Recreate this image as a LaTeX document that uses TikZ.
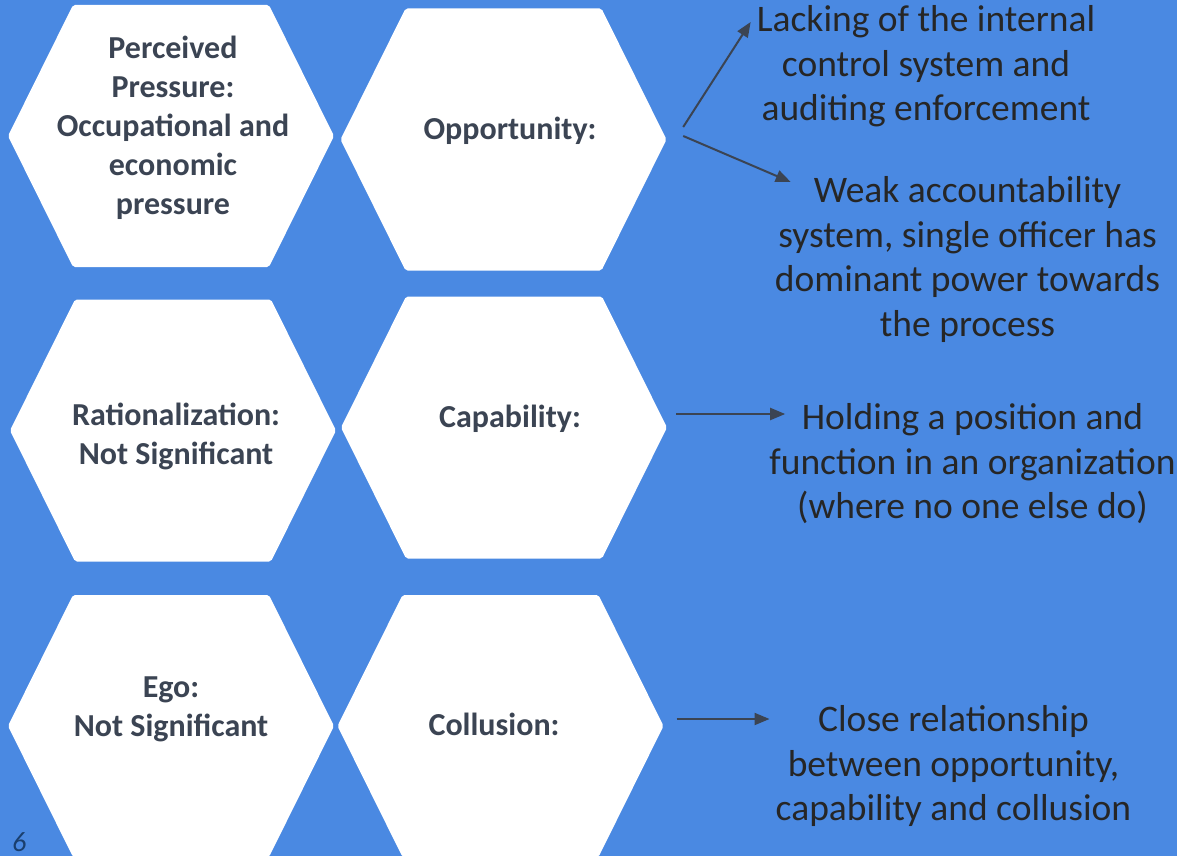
\documentclass[tikz,border=0pt]{standalone}
\usepackage{fontspec}
\setmainfont{Carlito}
\usetikzlibrary{arrows.meta}
\definecolor{slideblue}{HTML}{4A89E2}
\definecolor{hexink}{HTML}{3B4453}
\definecolor{bodyink}{HTML}{262626}
\definecolor{pageink}{HTML}{1A3F6E}
\tikzset{
  hexcell/.style={minimum width=326pt, minimum height=262pt, inner sep=0pt,
    path picture={
      \fill[white,rounded corners=2pt]
        (path picture bounding box.west)
        -- ([xshift=65pt]path picture bounding box.north west)
        -- ([xshift=-65pt]path picture bounding box.north east)
        -- (path picture bounding box.east)
        -- ([xshift=-65pt]path picture bounding box.south east)
        -- ([xshift=65pt]path picture bounding box.south west)
        -- cycle;
    }},
  hextext/.style={font=\fontsize{32}{39}\selectfont\bfseries, text=hexink,
    align=center, inner sep=0pt},
  bodytext/.style={font=\fontsize{37.5}{44.5}\selectfont, text=bodyink,
    align=center, inner sep=0pt},
  link/.style={draw=hexink, line width=2pt, -{Triangle[length=15pt,width=12pt]}}
}
\begin{document}
\begin{tikzpicture}[x=1pt,y=-1pt]
  \useasboundingbox (0,0) rectangle (1177,856);
  \clip (0,0) rectangle (1177,856);
  \fill[slideblue] (0,0) rectangle (1177,856);
  \foreach \hx/\x/\y in {press/171/136, oppo/503.5/139.5, ratio/173/430.5,
                         capa/504/427.5, ego/171/726, coll/500.5/726}
    \node[hexcell] (\hx) at (\x,\y) {};

  \node[hextext] (pressT) at (173,127.5) {Perceived\\Pressure:\\Occupational and\\economic\\pressure};
  \node[hextext] (oppoT) at (510,131) {Opportunity:};
  \node[hextext] (ratioT) at (176,436) {Rationalization:\\Not Significant};
  \node[hextext] (capaT) at (510,419) {Capability:};
  \node[hextext] (egoT) at (171,709.5) {Ego:\\Not Significant};
  \node[hextext] (collT) at (494,724) {Collusion:};

  \node[bodytext] (lackT) at (926,66.5) {Lacking of the internal\\control system and\\auditing enforcement};
  \node[bodytext] (weakT) at (967.5,259.5) {Weak accountability\\system, single officer has\\dominant power towards\\the process};
  \node[bodytext] (holdT) at (972.5,464) {Holding a position and\\function in an organization\\(where no one else do)};
  \node[bodytext] (closeT) at (953.5,766) {Close relationship\\between opportunity,\\capability and collusion};

  \coordinate (capaOut) at ([shift={(9,-13.5)}]capa.east);
  \coordinate (collOut) at ([shift={(13,-7)}]coll.east);
  \draw[link] ([shift={(16.5,-12.5)}]oppo.east) -- ([shift={(-6,-44.5)}]lackT.west);
  \draw[link] ([shift={(16.5,-3.5)}]oppo.east) -- ([shift={(16,-77.5)}]weakT.west);
  \draw[link] (capaOut) -- ([xshift=16pt]capaOut -| holdT.west);
  \draw[link] (collOut) -- ([xshift=-6pt]collOut -| closeT.west);

  \node[font=\fontsize{28}{28}\selectfont\itshape, text=pageink, anchor=base west,
        inner sep=0pt] (pageno) at (12,851) {6};
\end{tikzpicture}
\end{document}
